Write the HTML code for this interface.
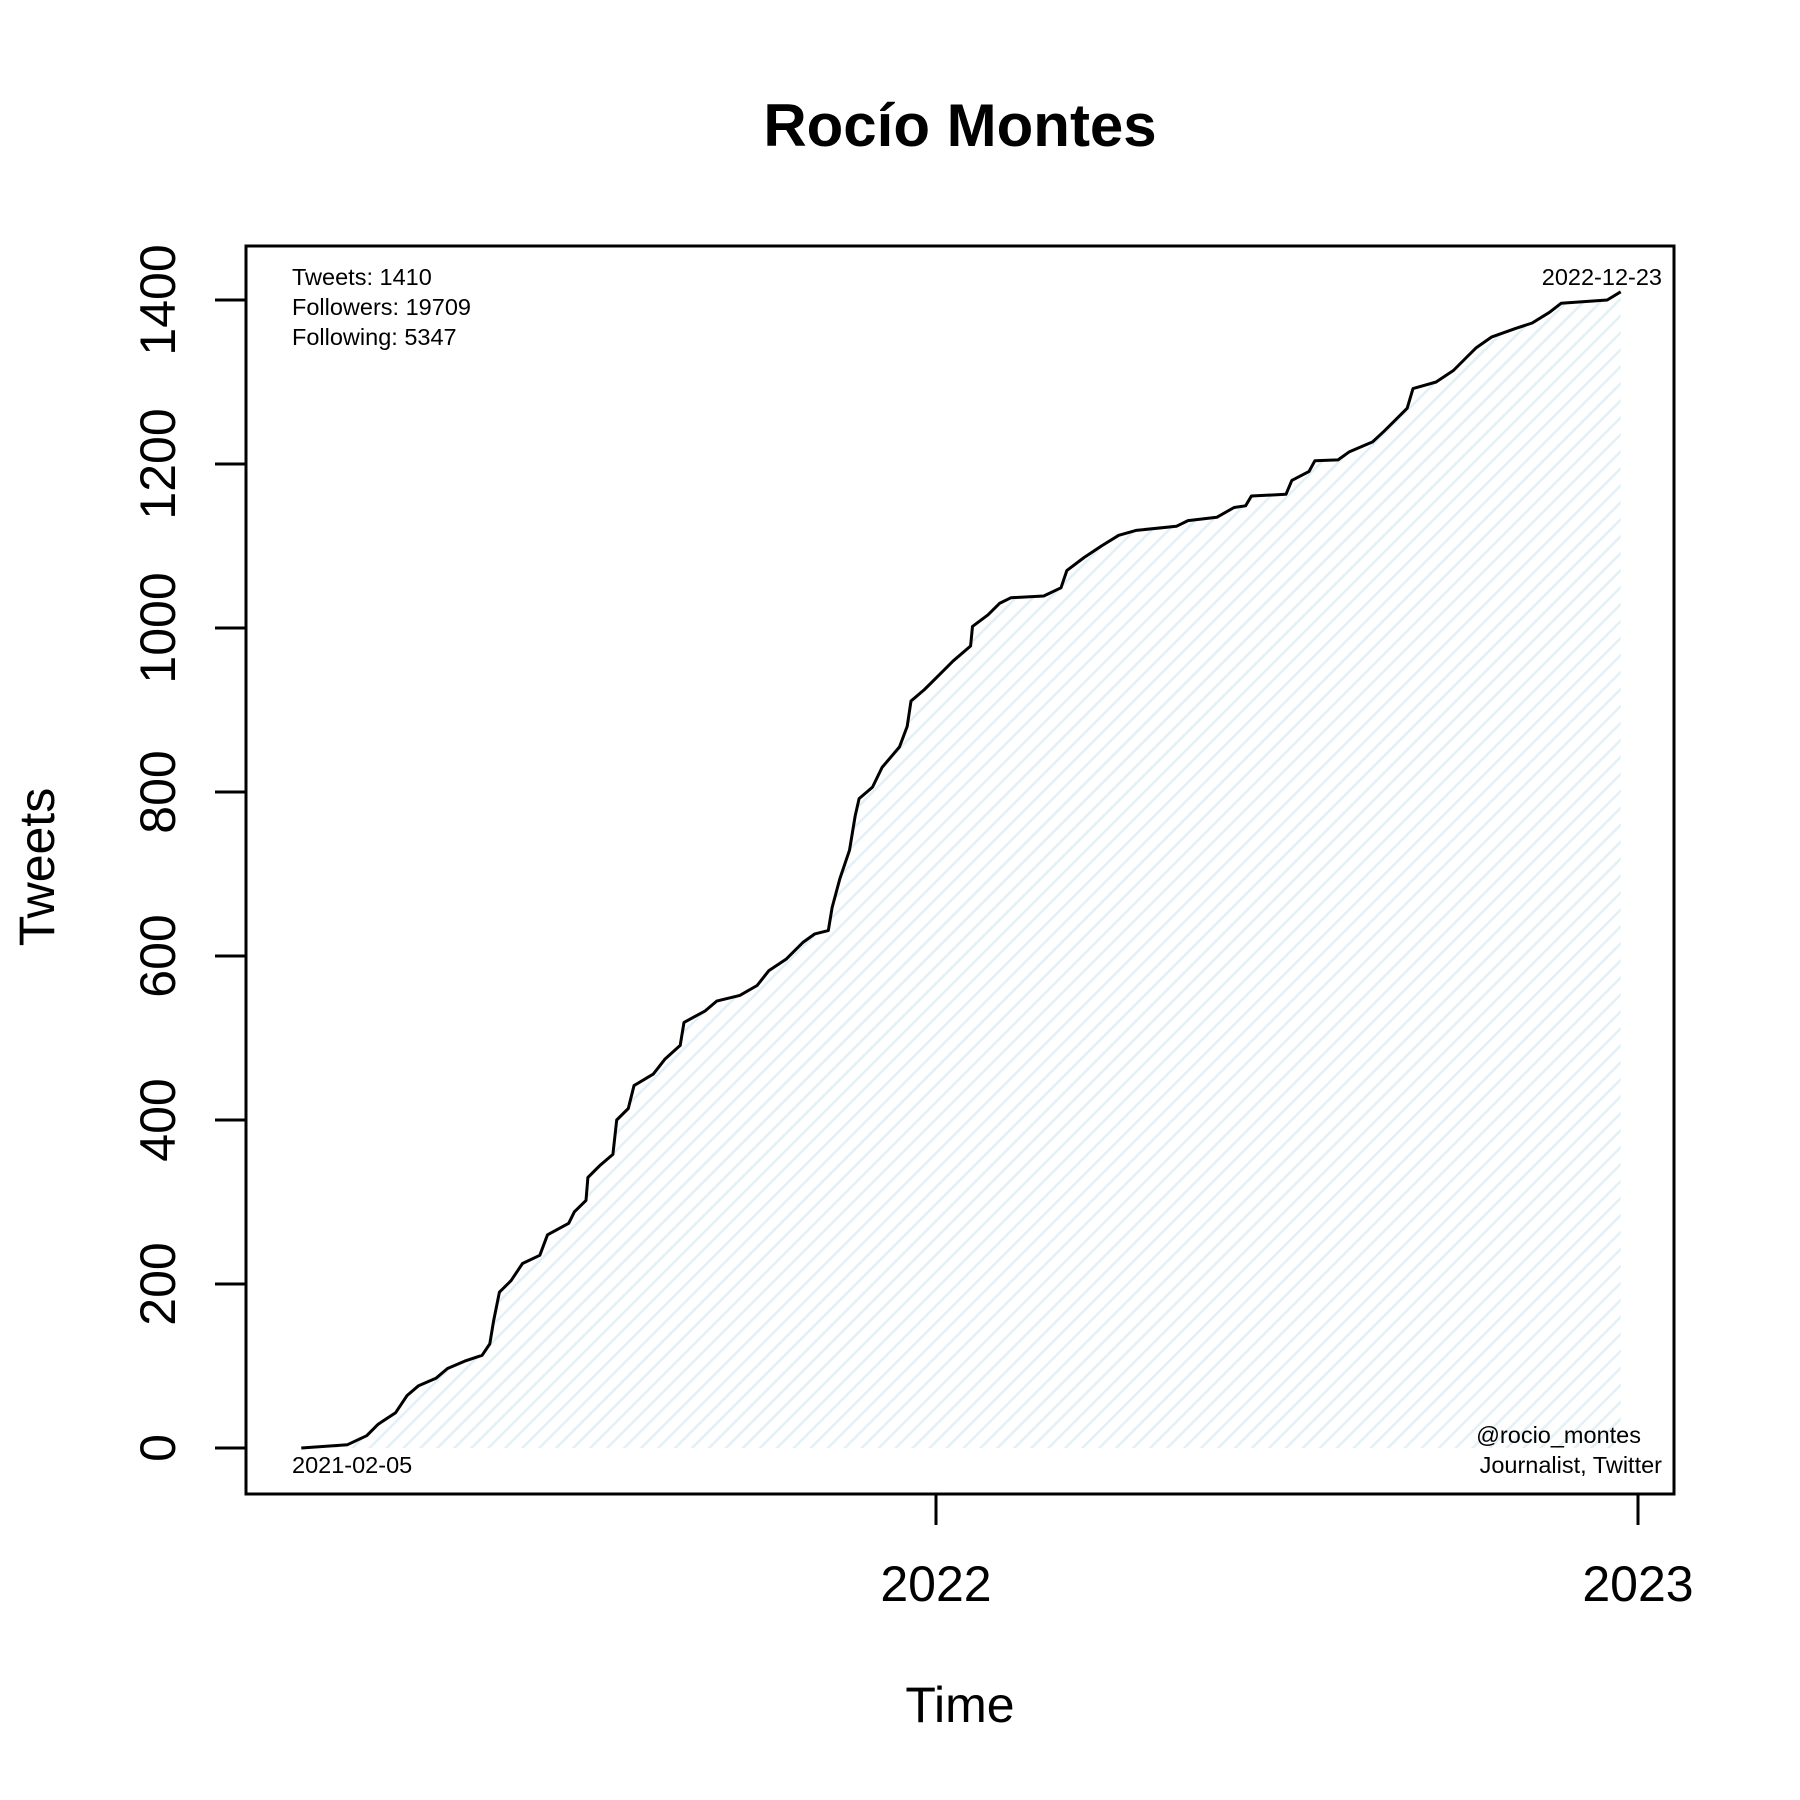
<!DOCTYPE html>
<html>
<head>
<meta charset="utf-8">
<style>
  html,body{margin:0;padding:0;background:#fff;}
  svg{display:block;}
  text{font-family:"Liberation Sans", Arial, sans-serif;fill:#000;}
</style>
</head>
<body>
<svg id="chart" width="1800" height="1800" viewBox="0 0 1800 1800" xmlns="http://www.w3.org/2000/svg">
  <defs>
    <pattern id="hatch" patternUnits="userSpaceOnUse" width="12" height="12" patternTransform="rotate(45)">
      <line x1="0" y1="0" x2="0" y2="12" stroke="#e3f0f6" stroke-width="5"/>
    </pattern>
  </defs>
  <rect x="0" y="0" width="1800" height="1800" fill="#fff"/>
  <text x="960" y="146" font-size="60" font-weight="bold" text-anchor="middle">Rocío Montes</text>
  <g id="plot"></g>
  <rect x="246" y="246" width="1428" height="1248" fill="none" stroke="#000" stroke-width="3"/>
  <text x="292" y="285" font-size="23.5">Tweets: 1410</text>
  <text x="292" y="315" font-size="23.5">Followers: 19709</text>
  <text x="292" y="345" font-size="23.5">Following: 5347</text>
  <text x="1662" y="285" font-size="23.5" text-anchor="end">2022-12-23</text>
  <text x="292" y="1473" font-size="23.5">2021-02-05</text>
  <text x="1641" y="1443" font-size="23.5" text-anchor="end">@rocio_montes</text>
  <text x="1662" y="1473" font-size="23.5" text-anchor="end">Journalist, Twitter</text>
  <text x="960" y="1722" font-size="50" text-anchor="middle">Time</text>
  <text transform="translate(54,867) rotate(-90)" font-size="50" text-anchor="middle">Tweets</text>
</svg>
<script>
// Data: days since 2021-02-05 and cumulative tweet counts
const dayOffsets = [0,24,34,40,49,55,61,70,76,85,94,98,100,103,109,115,124,128,139,142,148,149,155,162,164,170,173,183,189,197,199,210,216,228,237,243,252,261,267,274,276,280,285,288,290,297,302,311,315,317,324,333,339,348,349,357,363,369,386,395,398,407,416,425,434,455,461,476,485,491,494,512,515,524,527,539,545,557,563,569,575,578,590,599,605,611,619,631,640,649,655,679,686];
const tweetCounts = [0,4,15,29,43,64,76,85,97,106,113,127,155,190,204,225,235,260,274,288,302,330,344,358,400,414,442,456,474,491,519,533,545,552,564,582,596,617,627,631,659,694,729,771,792,806,830,855,880,911,925,946,960,978,1002,1016,1030,1037,1039,1049,1070,1086,1100,1113,1119,1124,1131,1135,1147,1149,1161,1163,1180,1191,1204,1205,1215,1227,1240,1254,1268,1292,1300,1314,1328,1342,1355,1365,1372,1385,1396,1400,1410];
const yTicks = [0,200,400,600,800,1000,1200,1400];
const xTickLabels = ["2022","2023"];
const xTickDayOffsets = [330,695];

const NS = "http://www.w3.org/2000/svg";
const plot = document.getElementById("plot");
function xScale(d){ return 936 + (d - 330) * 702 / 365; }
function yScale(v){ return 1448 - v * 0.82; }
function mk(tag, attrs){ const e = document.createElementNS(NS, tag); for (const k in attrs) e.setAttribute(k, attrs[k]); return e; }

let pts = dayOffsets.map((d,i)=> xScale(d).toFixed(1)+","+yScale(tweetCounts[i]).toFixed(1));
const area = mk("polygon", {points: pts.join(" ") + " " + xScale(dayOffsets[dayOffsets.length-1]).toFixed(1)+","+yScale(0) + " " + xScale(dayOffsets[0]).toFixed(1)+","+yScale(0), fill:"url(#hatch)", stroke:"none"});


plot.appendChild(area);

const line = mk("polyline", {points: pts.join(" "), fill:"none", stroke:"#000", "stroke-width":"3", "stroke-linejoin":"round"});


plot.appendChild(line);

yTicks.forEach(v=>{
  const y = yScale(v);
  const t = mk("line", {x1:215, y1:y, x2:246, y2:y, stroke:"#000", "stroke-width":"3"});
  
  
  plot.appendChild(t);
  const lb = mk("text", {transform:"translate(175,"+y+") rotate(-90)", "font-size":"50", "text-anchor":"middle"});
  lb.textContent = String(v);
  
  
  plot.appendChild(lb);
});

xTickDayOffsets.forEach((d,i)=>{
  const x = xScale(d);
  const t = mk("line", {x1:x, y1:1494, x2:x, y2:1525, stroke:"#000", "stroke-width":"3"});
  
  
  plot.appendChild(t);
  const lb = mk("text", {x:x, y:1601, "font-size":"50", "text-anchor":"middle"});
  lb.textContent = xTickLabels[i];
  
  
  plot.appendChild(lb);
});
</script>
</body>
</html>
